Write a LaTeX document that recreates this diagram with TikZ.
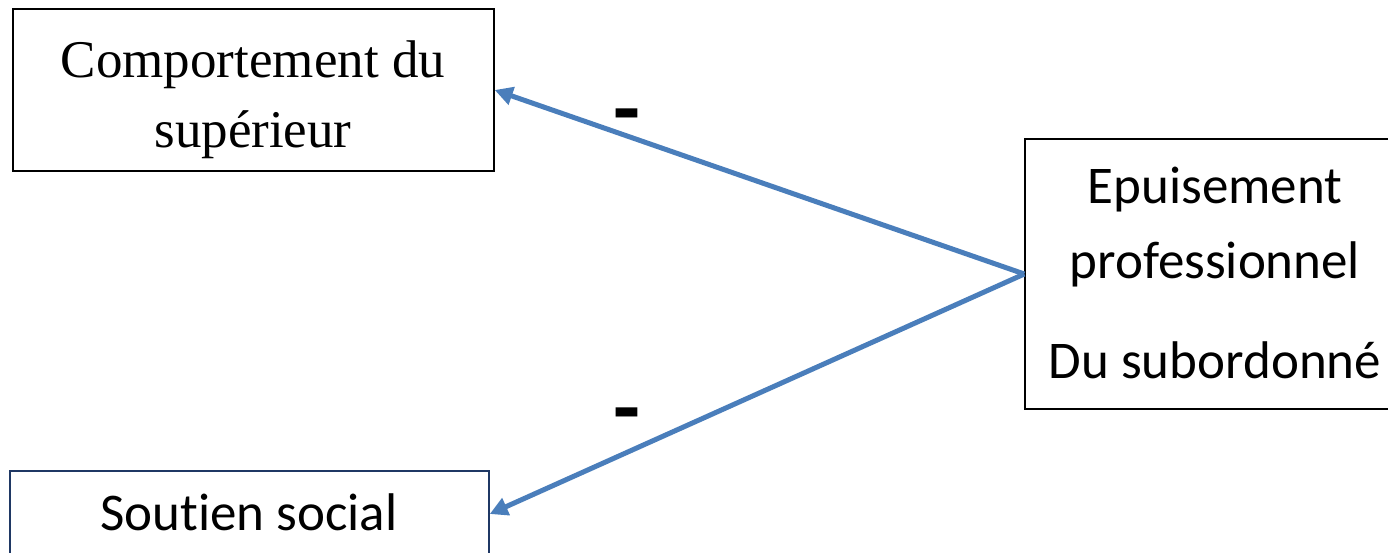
\documentclass[tikz,border=0pt]{standalone}
\usepackage{fontspec}
\setmainfont{Liberation Serif}
\newfontfamily\calfont[Ligatures=NoCommon]{Carlito}
\usetikzlibrary{arrows.meta}
\definecolor{arrowblue}{RGB}{74,126,187}
\definecolor{navyline}{RGB}{31,56,100}
\tikzset{
  boxnode/.style={draw=black, line width=1.4pt, rectangle, inner sep=0pt, fill=none},
  serifsize/.style={font=\fontsize{53}{70}\selectfont, inner sep=0pt},
  calsize/.style={font=\calfont\fontsize{53}{70}\selectfont, inner sep=0pt},
  signnode/.style={font=\calfont\bfseries\fontsize{88}{88}\selectfont, inner sep=0pt},
  link/.style={draw=arrowblue, line width=5pt, -{Triangle[length=18pt, width=18pt]}, shorten >=0pt}
}
\begin{document}
\begin{tikzpicture}[x=1pt,y=-1pt]
\useasboundingbox (0,0) rectangle (1388,552);
% boxes
\node[boxnode, minimum width=481pt, minimum height=162pt] (sup) at (253.5,90) {};
\node[boxnode, draw=navyline, minimum width=479pt, minimum height=86pt] (sout) at (249.5,514) {};
\node[boxnode, minimum width=380pt, minimum height=270pt] (epu) at (1215,274) {};
% texts
\node[serifsize, anchor=base] (t1) at (253,77) {Comportement du};
\node[serifsize, anchor=base] (t2) at (253,147) {supérieur};
\node[calsize, anchor=base] (t3) at (249,530) {Soutien social};
\node[calsize, anchor=base] (t4) at (1215,203) {Epuisement};
\node[calsize, anchor=base] (t5) at (1215,278) {professionnel};
\node[calsize, anchor=base] (t6) at (1215,378) {Du subordonné};
% connectors
\draw[link] (epu.west) -- (sup.east);
\draw[link] (epu.west) -- (sout.east);
% signs
\node[signnode] (m1) at (626.5,124) {-};
\node[signnode] (m2) at (626.5,423) {-};
\end{tikzpicture}
\end{document}
